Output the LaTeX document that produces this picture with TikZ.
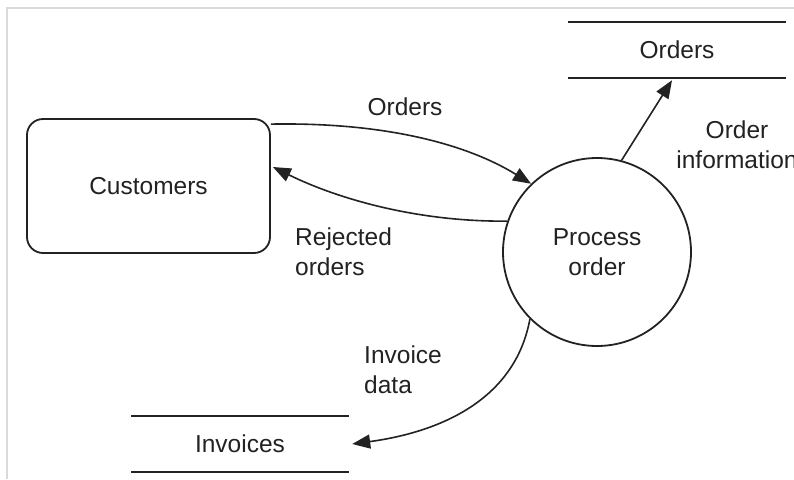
\documentclass[tikz,border=0pt]{standalone}
\usepackage{fontspec}
\setmainfont{Liberation Sans}
\usetikzlibrary{arrows.meta,calc}
\definecolor{ink}{HTML}{222222}
\definecolor{frame}{HTML}{DADADA}
\begin{document}
\begin{tikzpicture}[x=1pt,y=-1pt,
  lbl/.style={font=\fontsize{24.5}{30}\selectfont, text=ink, inner sep=0pt},
  entity/.style={draw=ink, line width=1.8pt, rounded corners=16pt, minimum width=243pt, minimum height=134pt, lbl},
  process/.style={draw=ink, line width=1.8pt, circle, minimum size=188pt, lbl, align=center},
  store/.style={minimum width=218pt, minimum height=56pt, lbl},
  storeline/.style={draw=ink, line width=2.2pt},
  flow/.style={draw=ink, line width=1.6pt, -{Triangle[length=18pt,width=14pt]}}]
  \useasboundingbox (0,0) rectangle (794,479);
  % frame
  \draw[frame, line width=2.5pt] (7,479) -- (7,8) -- (794,8);

  % nodes
  \node[entity] (cust) at (148.5,186) {Customers};
  \node[process] (proc) at (597,252) {Process\\order};
  \node[store] (ords) at (677,50) {Orders};
  \node[store] (inv) at (240,444) {Invoices};

  % data store edges
  \draw[storeline] (ords.north west) -- (ords.north east);
  \draw[storeline] (ords.south west) -- (ords.south east);
  \draw[storeline] (inv.north west) -- (inv.north east);
  \draw[storeline] (inv.south west) -- (inv.south east);

  % flows
  \draw[flow] ($(cust.north east)+(0,6)$) .. controls (390,122) and (470,146) .. (proc.134);
  \draw[flow] (proc.161) .. controls (420,222) and (340,200) .. ($(cust.east)+(2,-19)$);
  \draw[flow] (proc.75) -- ($(ords.south)+(-5,2)$);
  \draw[flow] (proc.225) .. controls (515,400) and (440,432) .. ($(inv.east)+(3,0)$);

  % flow labels
  \node[lbl] (lorders) at (405,107) {Orders};
  \node[lbl, anchor=west, align=left] (lrej) at (295,252) {Rejected\\orders};
  \node[lbl, align=center] (linfo) at (737,145) {Order\\information};
  \node[lbl, anchor=west, align=left] (linv) at (364,370) {Invoice\\data};
\end{tikzpicture}
\end{document}
